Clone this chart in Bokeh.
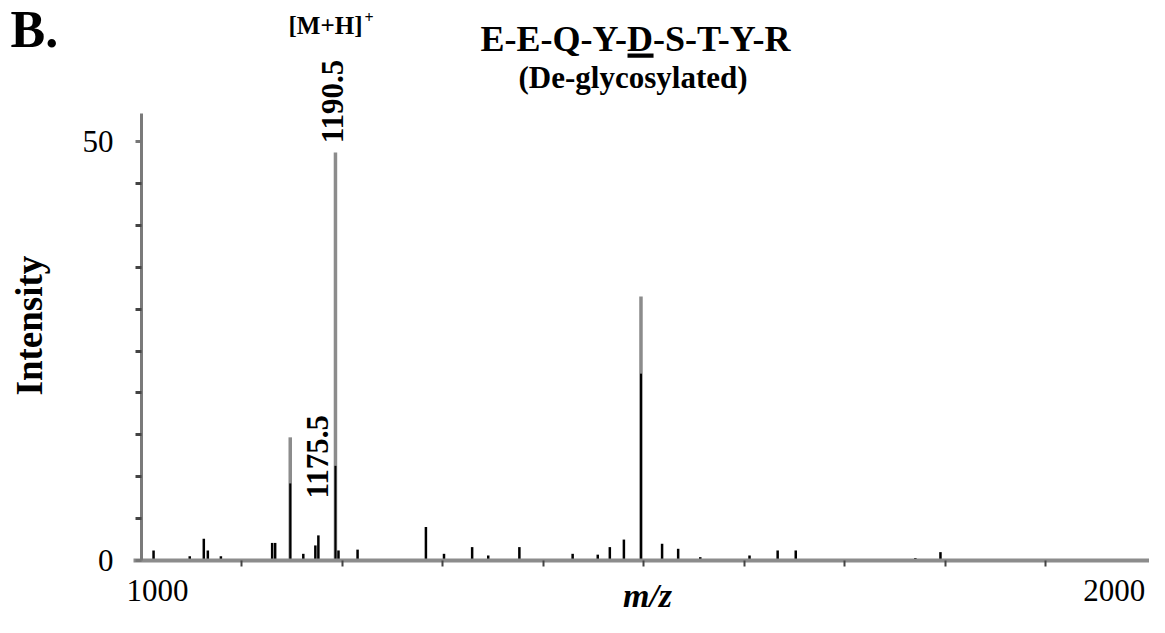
import math
from bokeh.plotting import figure
from bokeh.models import Range1d, FixedTicker, Label, BoxAnnotation
from bokeh.embed import file_html
from bokeh.resources import INLINE

# ---- data ----
# large peaks: full (grey) height and the dark core height
peak_mz = [1148, 1193, 1497]
peak_top = [14.7, 48.7, 31.5]
peak_core = [9.2, 11.3, 22.3]

# small peaks
minor_mz = [1012, 1048, 1062, 1066, 1079, 1130, 1133, 1161, 1173, 1176, 1196,
            1215, 1283, 1301, 1329, 1345, 1376, 1429, 1454, 1466, 1480, 1518,
            1534, 1556, 1605, 1633, 1651, 1770, 1795]
minor_int = [1.2, 0.5, 2.6, 1.2, 0.5, 2.1, 2.1, 0.8, 1.8, 3.0, 1.2,
             1.3, 4.0, 0.8, 1.6, 0.6, 1.6, 0.8, 0.7, 1.6, 2.5, 2.0,
             1.4, 0.4, 0.6, 1.2, 1.2, 0.3, 1.0]

# peak annotations
annot_mz = [1175.5, 1190.5]
annot_y = [7.4, 49.8]
annot_text = ["1175.5", "1190.5"]

# axis ticks / labels
y_major = [0, 50]
y_minor = [5, 10, 15, 20, 25, 30, 35, 40, 45]
x_label_pos = [1016, 1968]
x_label_text = ["1000", "2000"]
x_minor = [1100, 1200, 1300, 1400, 1500, 1600, 1700, 1800, 1900]

SERIF = "Liberation Serif"
QSERIF = "'Liberation Serif', serif"

W, H = 1149, 617
# the frame fills the whole canvas; the axes are pinned at m/z 1000 and intensity 0
p = figure(width=W, height=H, output_backend="svg", toolbar_location=None,
           x_range=Range1d(859.7, 2003), y_range=Range1d(-6.80, 66.83),
           min_border_left=0, min_border_right=0, min_border_top=0,
           min_border_bottom=0)
p.xgrid.visible = False
p.ygrid.visible = False
p.outline_line_color = None
p.background_fill_color = "white"
p.border_fill_color = "white"

# spectrum
p.segment(x0=peak_mz, y0=[0] * len(peak_mz), x1=peak_mz, y1=peak_top,
          line_color="#8c8c8c", line_width=3.5)
p.segment(x0=peak_mz, y0=[0] * len(peak_mz), x1=peak_mz, y1=peak_core,
          line_color="black", line_width=2)
p.segment(x0=minor_mz, y0=[0] * len(minor_mz), x1=minor_mz, y1=minor_int,
          line_color="black", line_width=2.5)

# axes
xa = p.xaxis[0]
xa.fixed_location = 0
xa.bounds = (992, 2003)
xa.ticker = FixedTicker(ticks=x_label_pos, minor_ticks=x_minor)
xa.major_label_overrides = {k: v for k, v in zip(x_label_pos, x_label_text)}
xa.major_tick_out = 0
xa.major_tick_in = 0
xa.minor_tick_out = 6
xa.minor_tick_in = 0
xa.minor_tick_line_color = "#444444"
xa.minor_tick_line_width = 2
xa.axis_line_color = "#8c8c8c"
xa.axis_line_width = 4
xa.major_label_text_font = SERIF
xa.major_label_text_font_size = "31px"
xa.major_label_text_color = "black"
xa.major_label_standoff = 13

ya = p.yaxis[0]
ya.fixed_location = 1000
ya.bounds = (0, 53.3)
ya.ticker = FixedTicker(ticks=y_major, minor_ticks=y_minor)
ya.major_tick_out = 6
ya.major_tick_in = 0
ya.major_tick_line_color = "#777777"
ya.major_tick_line_width = 3
ya.minor_tick_out = 6
ya.minor_tick_in = 0
ya.minor_tick_line_color = "#444444"
ya.minor_tick_line_width = 3
ya.axis_line_color = "#7a7a7a"
ya.axis_line_width = 3
ya.major_label_text_font = SERIF
ya.major_label_text_font_size = "31px"
ya.major_label_text_color = "black"
ya.major_label_standoff = 22


def lab(**kw):
    base = dict(text_font=QSERIF, text_font_style="bold", text_color="black",
                text_baseline="middle")
    base.update(kw)
    p.add_layout(Label(**base))


# peak labels (rotated)
for mz, yy, t in zip(annot_mz, annot_y, annot_text):
    lab(x=mz, y=yy, text=t, angle=math.pi / 2, text_font_size="31px",
        text_align="left")

# texts above the spectrum
lab(x=1146.3, y=63.9, text="[M+H]", text_font_size="25px", text_align="left")
lab(x=1221.9, y=64.8, text="+", text_font_size="16px", text_align="left")
lab(x=1491.5, y=62.28, text="E-E-Q-Y-D-S-T-Y-R", text_font_size="36px",
    text_align="center")
lab(x=1489.1, y=57.66, text="(De-glycosylated)", text_font_size="31px",
    text_align="center")
p.add_layout(BoxAnnotation(left=1483.6, right=1509.5, bottom=60.0, top=60.5,
                           fill_color="black", fill_alpha=1.0, line_color=None))

# panel letter and axis titles
lab(x=869.65, y=63.33, text="B.", text_font_size="52px", text_align="left")
lab(x=1503.5, y=-4.2, text="m/z", text_font_size="34px",
    text_font_style="bold italic", text_align="center")
lab(x=888.5, y=28.04, text="Intensity", angle=math.pi / 2,
    text_font_size="37px", text_align="center")

open("out.html", "w").write(file_html(p, INLINE))
